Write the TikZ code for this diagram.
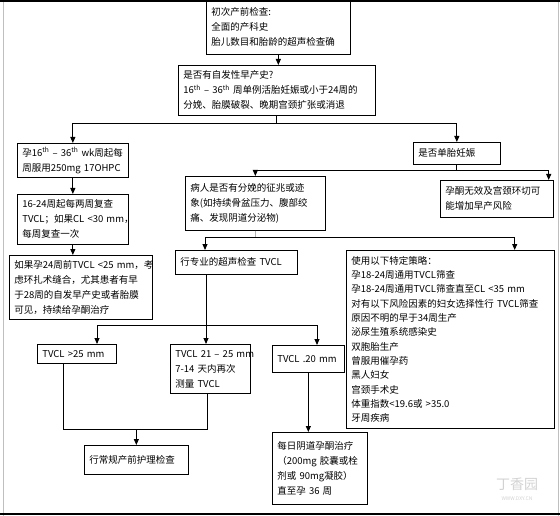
\documentclass[tikz,border=0pt]{standalone}
\usepackage{fontspec}
\setmainfont{Noto Sans CJK SC}
\usetikzlibrary{arrows.meta}
\tikzset{
  box/.style={draw, line width=0.7pt, anchor=north west, inner xsep=5pt, inner ysep=3pt, align=left, font=\fontsize{9.5}{15}\selectfont},
  arr/.style={line width=0.9pt, -{Triangle[length=6pt,width=5pt]}},
  link/.style={line width=0.9pt}
}
\begin{document}
\begin{tikzpicture}[x=1pt,y=-1pt]
  \useasboundingbox (0,0) rectangle (560,516);
  \draw[gray!50] (3,0) -- (3,516);
  \draw[gray!50] (558,0) -- (558,516);
  \node[box,text width=134pt,minimum height=54pt] (exam) at (206,0) {初次产前检查:\\全面的产科史\\胎儿数目和胎龄的超声检查确};
  \node[box,text width=187pt,minimum height=50pt] (hist) at (178,65) {是否有自发性早产史?\\16\textsuperscript{th} – 36\textsuperscript{th} 周单例活胎妊娠或小于24周的\\分娩、胎膜破裂、晚期宫颈扩张或消退};
  \node[box,text width=101pt,minimum height=34pt] (weekly) at (17,143) {\mbox{孕16\textsuperscript{th} – 36\textsuperscript{th} wk周起每}\\\mbox{周服用250mg 17OHPC}};
  \node[box,text width=101pt,minimum height=50pt] (check) at (17,194) {16-24周起每两周复查\\\mbox{TVCL；如果CL <30 mm，}\\每周复查一次};
  \node[box,text width=133pt,minimum height=64pt] (cerclage) at (9,255) {\mbox{如果孕24周前TVCL <25 mm，考}\\虑环扎术缝合，尤其患者有早\\于28周的自发早产史或者胎膜\\可见，持续给孕酮治疗};
  \node[box,text width=77pt,minimum height=22pt] (single) at (413,142) {是否单胎妊娠};
  \node[box,text width=130pt,minimum height=54pt] (labor) at (185,176) {病人是否有分娩的征兆或迹\\象(如持续骨盆压力、腹部绞\\痛、发现阴道分泌物)};
  \node[box,text width=103pt,minimum height=37pt] (noeffect) at (440,180) {孕酮无效及宫颈环切可\\能增加早产风险};
  \node[box,text width=112pt,minimum height=24pt] (scan) at (175,250) {行专业的超声检查 TVCL};
  \node[box,text width=198pt,minimum height=178pt,font=\fontsize{9.5}{14.3}\selectfont] (strategy) at (346,250) {使用以下特定策略：\\孕18-24周通用TVCL筛查\\\mbox{孕18-24周通用TVCL筛查直至CL <35 mm}\\\mbox{对有以下风险因素的妇女选择性行 TVCL筛查}\\原因不明的早于34周生产\\泌尿生殖系统感染史\\双胞胎生产\\曾服用催孕药\\黑人妇女\\宫颈手术史\\体重指数<19.6或 >35.0\\牙周疾病};
  \node[box,text width=69pt,minimum height=19pt] (gt) at (37,344) {TVCL >25 mm};
  \node[box,text width=70pt,minimum height=49pt] (mid) at (170,344) {\mbox{TVCL 21 – 25 mm}\\7-14 天内再次\\测量 TVCL};
  \node[box,text width=62pt,minimum height=27pt] (lt) at (272,345) {TVCL .20 mm};
  \node[box,text width=94pt,minimum height=29pt] (routine) at (84,445) {行常规产前护理检查};
  \node[box,text width=85pt,minimum height=72pt] (daily) at (272,432) {每日阴道孕酮治疗\\\mbox{（200mg 胶囊或栓}\\\mbox{剂或 90mg凝胶）}\\直至孕 36 周};
  \draw[arr] (exam.south) -- (exam.south |- hist.north);
  \draw[link] (hist.south) -- ++(0,8) coordinate (j1);
  \draw[arr] (j1) -| (weekly.north);
  \draw[arr] (j1) -| (single.north);
  \draw[arr] (weekly.south) -- (weekly.south |- check.north);
  \draw[arr] (check.south) -- (check.south |- cerclage.north);
  \draw[link] (single.south) -- ++(0,6) coordinate (j2);
  \draw[arr] (j2) -| (labor.north);
  \draw[arr] (j2) -| ([xshift=-5pt]noeffect.north east);
  \draw[link,gray!60] (labor.south) -- ++(0,7) coordinate (j3);
  \draw[arr] (j3) -| ([xshift=30pt]scan.north west);
  \draw[arr] (j3) -| ([xshift=-40pt]strategy.north east);
  \draw[arr] ([xshift=31pt]scan.south west) -- ([xshift=31pt]scan.south west |- mid.north);
  \path ([xshift=31pt]scan.south west) ++(0,51) coordinate (j4);
  \draw[arr] (j4) -| ([xshift=60pt]gt.north west);
  \draw[arr] (j4) -| ([xshift=45pt]lt.north west);
  \draw[link] ([xshift=26pt]gt.south west) -- ++(0,66) coordinate (j5) -| ([xshift=37pt]mid.south west);
  \draw[arr] (j5 -| routine.north) -- (routine.north);
  \draw[arr] (lt.south) -- (lt.south |- daily.north);
  \node[text=gray!35,font=\fontsize{14}{14}\selectfont] (wm) at (517,484) {丁香园};
  \node[text=gray!35,font=\fontsize{5}{5}\selectfont] (wmurl) at (517,499) {WWW.DXY.CN};
  \draw[line width=2.5pt] (0,1) -- (560,1);
  \draw[line width=1.5pt] (0,514) -- (560,514);
\end{tikzpicture}
\end{document}
